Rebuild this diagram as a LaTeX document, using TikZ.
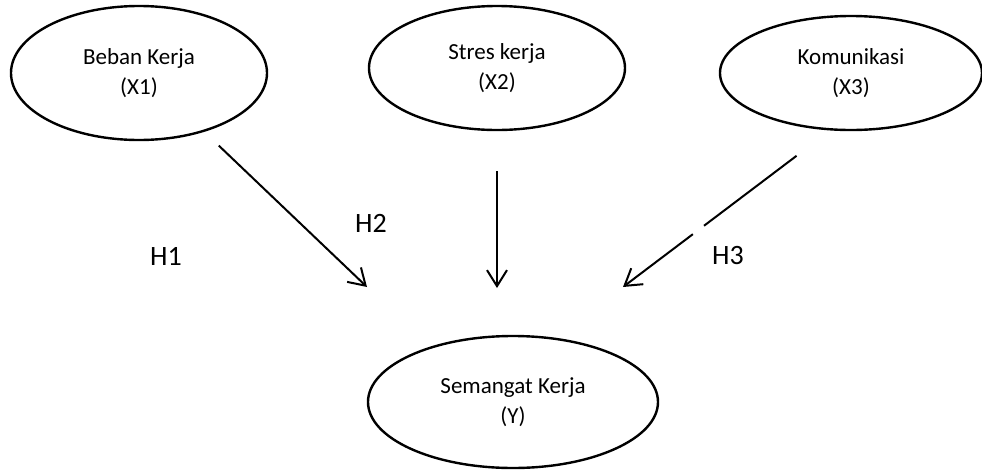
\documentclass[tikz,border=0pt]{standalone}
\usepackage{fontspec}
\setmainfont{Carlito}
\usetikzlibrary{shapes.geometric,arrows.meta}

\tikzset{
  variabel/.style={draw, ellipse, line width=1.2pt, inner sep=0pt, align=center,
    font=\fontsize{11.5}{15}\selectfont},
  panah/.style={line width=1pt, -{Straight Barb[length=8pt,width=10pt]}},
  hipotesis/.style={font=\fontsize{14}{16}\selectfont}
}

\begin{document}
\begin{tikzpicture}[x=0.5pt,y=-0.5pt]

\useasboundingbox (0,0) rectangle (982,472);

% Variabel bebas
\node[variabel, minimum width=128pt, minimum height=67pt] (beban) at (139,73) {Beban Kerja\\(X1)};
\node[variabel, minimum width=128pt, minimum height=62pt] (stres) at (497,68) {Stres kerja\\(X2)};
\node[variabel, minimum width=131pt, minimum height=57pt] (komunikasi) at (851,73) {Komunikasi\\(X3)};

% Variabel terikat
\node[variabel, minimum width=145pt, minimum height=66pt] (semangat) at (513,402) {Semangat Kerja\\(Y)};

% Ujung panah
\coordinate (ujung1) at (367,287);
\coordinate (ujung2) at (497,288);
\coordinate (ujung3) at (623,287);

\draw[panah, shorten <=10pt] (beban.-42) -- (ujung1);
\draw[panah, shorten <=20pt] (stres.south) -- (ujung2);
\draw[panah, shorten <=21pt, dash pattern=on 58pt off 7pt on 300pt] (komunikasi.-110) -- (ujung3);

% Hipotesis
\node[hipotesis] (h1) at (166,256) {H1};
\node[hipotesis] (h2) at (371,223) {H2};
\node[hipotesis] (h3) at (728,256) {H3};

\end{tikzpicture}
\end{document}
